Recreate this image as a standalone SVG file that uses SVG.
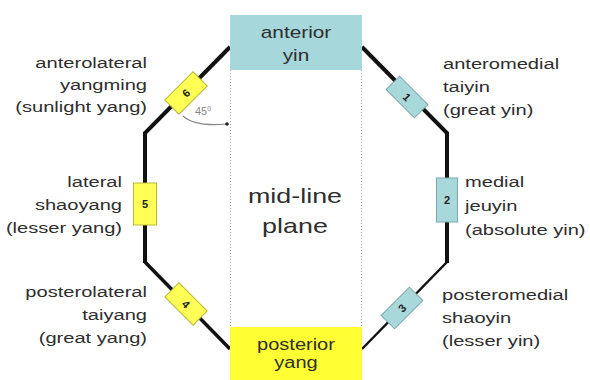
<svg xmlns="http://www.w3.org/2000/svg" width="590" height="380" viewBox="0 0 590 380">
<style>
  text { font-family: "Liberation Sans", Arial, sans-serif; fill: #2e2e2e; }
  .lbl { font-size: 15px; }
  .ctr { font-size: 16px; text-anchor: middle; }
  .big { font-size: 21px; text-anchor: middle; }
  .num { font-size: 11px; font-weight: bold; text-anchor: middle; fill: #222; }
  .yel { fill: #ffff55; stroke: #b8b83a; stroke-width: 1; }
  .blu { fill: #a9d8db; stroke: #78a9ac; stroke-width: 1; }
  .edge { fill: none; stroke: #111; stroke-linejoin: miter; }
  .dot { stroke: #aaa; stroke-width: 1; stroke-dasharray: 1 2; fill: none; }
</style>
<defs>
  <marker id="dotend" markerWidth="4" markerHeight="4" refX="2" refY="2" markerUnits="userSpaceOnUse">
    <circle cx="2" cy="2" r="1.8" fill="#222"/>
  </marker>
</defs>
<rect width="590" height="380" fill="#fff"/>

<g id="connectors">
  <polyline class="edge" stroke-width="4" points="230,47 145,133 145,263"/>
  <polyline class="edge" stroke-width="3.5" points="145,262 230,349"/>
  <polyline class="edge" stroke-width="4" points="362,47 447,133 447,263"/>
  <polyline class="edge" stroke-width="2.5" points="447,262 362,349"/>
  <path d="M183,116 Q195,127 227,124" fill="none" stroke="#888" stroke-width="1.2" marker-end="url(#dotend)"/>
</g>

<g id="node-midline">
  <line class="dot" x1="230.5" y1="70" x2="230.5" y2="327"/>
  <line class="dot" x1="361.5" y1="70" x2="361.5" y2="327"/>
  <g transform="translate(295,0) scale(1.28,1)">
    <text class="big" x="0" y="203">mid-line</text>
    <text class="big" x="0" y="233">plane</text>
  </g>
  <text x="203" y="115" font-size="11" style="fill:#888" text-anchor="middle">45<tspan font-size="7" dy="-4">0</tspan></text>
</g>

<g id="node-anterior">
  <rect x="230" y="15" width="132" height="55" fill="#a6d7da"/>
  <g transform="translate(296,0) scale(1.3,1)">
    <text class="ctr" x="0" y="38">anterior</text>
    <text class="ctr" x="0" y="61">yin</text>
  </g>
</g>

<g id="node-posterior">
  <rect x="230" y="327" width="132" height="53" fill="#ffff33"/>
  <g transform="translate(296,0) scale(1.25,1)">
    <text class="ctr" x="0" y="350">posterior</text>
    <text class="ctr" x="0" y="368">yang</text>
  </g>
</g>

<g id="marker-6" transform="translate(186,93) rotate(-45)">
  <rect class="yel" x="-20" y="-10" width="40" height="20"/>
  <text class="num" x="0" y="4">6</text>
</g>
<g id="marker-5" transform="translate(145,204)">
  <rect class="yel" x="-11.5" y="-21" width="23" height="42"/>
  <text class="num" x="0" y="4">5</text>
</g>
<g id="marker-4" transform="translate(186,304) rotate(45)">
  <rect class="yel" x="-20" y="-10" width="40" height="20"/>
  <text class="num" x="0" y="4">4</text>
</g>
<g id="marker-1" transform="translate(407,97) rotate(45)">
  <rect class="blu" x="-20" y="-9.5" width="40" height="19"/>
  <text class="num" x="0" y="4">1</text>
</g>
<g id="marker-2" transform="translate(447,200)">
  <rect class="blu" x="-10.5" y="-22" width="21" height="44"/>
  <text class="num" x="0" y="4">2</text>
</g>
<g id="marker-3" transform="translate(402,308) rotate(-45)">
  <rect class="blu" x="-20" y="-9.5" width="40" height="19"/>
  <text class="num" x="0" y="4">3</text>
</g>

<g id="label-yangming" transform="translate(147,0) scale(1.34,1)">
  <text class="lbl" x="0" y="68" text-anchor="end">anterolateral</text>
  <text class="lbl" x="0" y="90" text-anchor="end">yangming</text>
  <text class="lbl" x="0" y="112" text-anchor="end">(sunlight yang)</text>
</g>
<g id="label-shaoyang" transform="translate(122,0) scale(1.34,1)">
  <text class="lbl" x="0" y="187" text-anchor="end">lateral</text>
  <text class="lbl" x="0" y="210" text-anchor="end">shaoyang</text>
  <text class="lbl" x="0" y="233" text-anchor="end">(lesser yang)</text>
</g>
<g id="label-taiyang" transform="translate(147,0) scale(1.34,1)">
  <text class="lbl" x="0" y="297" text-anchor="end">posterolateral</text>
  <text class="lbl" x="0" y="320" text-anchor="end">taiyang</text>
  <text class="lbl" x="0" y="343" text-anchor="end">(great yang)</text>
</g>
<g id="label-taiyin" transform="translate(443,0) scale(1.34,1)">
  <text class="lbl" x="0" y="69">anteromedial</text>
  <text class="lbl" x="0" y="92">taiyin</text>
  <text class="lbl" x="0" y="115">(great yin)</text>
</g>
<g id="label-jeuyin" transform="translate(465,0) scale(1.34,1)">
  <text class="lbl" x="0" y="187">medial</text>
  <text class="lbl" x="0" y="211">jeuyin</text>
  <text class="lbl" x="0" y="235">(absolute yin)</text>
</g>
<g id="label-shaoyin" transform="translate(442,0) scale(1.34,1)">
  <text class="lbl" x="0" y="300">posteromedial</text>
  <text class="lbl" x="0" y="323">shaoyin</text>
  <text class="lbl" x="0" y="346">(lesser yin)</text>
</g>
</svg>
